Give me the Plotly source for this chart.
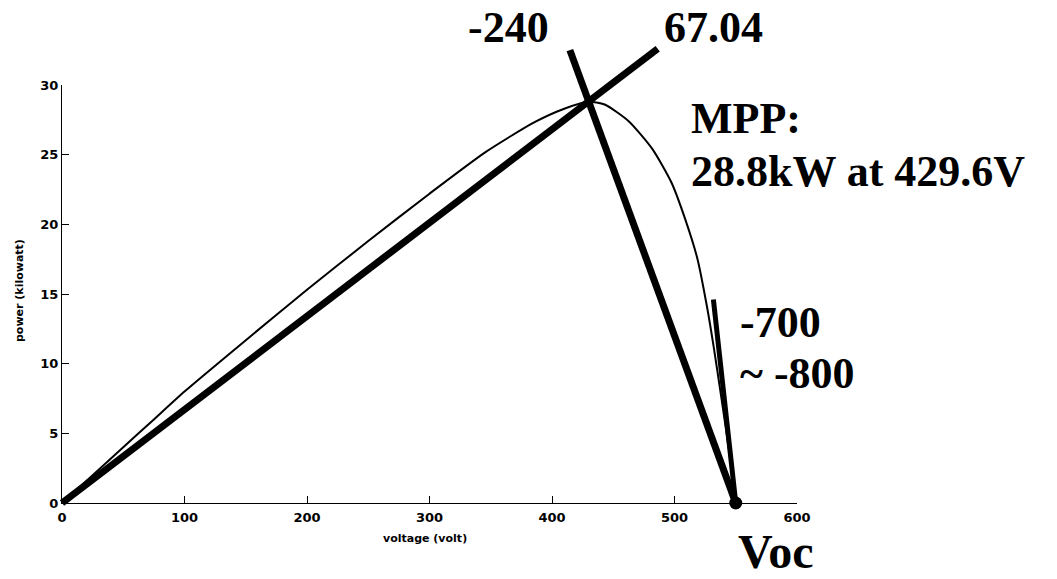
import plotly.graph_objects as go

# P-V curve of the PV array (voltage in V, power in kW)
voltage = [0, 25, 50, 75, 100, 153, 200, 250, 300, 346, 385, 410, 429.6,
           443, 462.6, 482, 497.5, 509, 518.8, 526.5, 532, 538, 542, 546, 550]
power = [0, 2.0, 4.0, 6.0, 8.0, 11.9, 15.3, 18.8, 22.2, 25.2, 27.3, 28.3, 28.8,
         28.6, 27.4, 25.4, 23.0, 20.3, 17.5, 14.1, 11.2, 7.7, 5.3, 2.8, 0]

# operating points
mpp_v, mpp_p = 429.6, 28.8
voc = 550
# slopes in W/V
slope_mpp = 67.04
slope_voc_mpp = -240
slope_voc_steep = -800
# end points of the three tangent lines (kW)
top_mpp_line = 32.6
top_voc_line = 32.5
top_steep_line = 14.6

x_ticks = [0, 100, 200, 300, 400, 500, 600]
y_ticks = [0, 5, 10, 15, 20, 25, 30]

W, H = 1057, 579
L, R, T, B = 52, 260, 20, 66
PW, PH = W - L - R, H - T - B
X0_PX, Y0_PX, Y30_PX = 62, 503, 85
kw_per_px = 30 / (Y0_PX - Y30_PX)
v_per_px = 600 / (L + PW - X0_PX)


def px(x):
    return (x - L) / PW


def py(y):
    return (H - B - y) / PH


fig = go.Figure()

# empty trace so the visible axis pair is drawn
fig.add_trace(go.Scatter(x=[None], y=[None], mode="lines", showlegend=False, hoverinfo="skip"))

line_kw = dict(xaxis="x2", yaxis="y2", mode="lines", hoverinfo="skip", showlegend=False)

fig.add_trace(go.Scatter(x=voltage, y=power, line=dict(color="black", width=2, shape="spline",
                                                       smoothing=0.6), **line_kw))

x_end1 = top_mpp_line / (slope_mpp / 1000)
fig.add_trace(go.Scatter(x=[0, x_end1], y=[0, slope_mpp / 1000 * x_end1],
                         line=dict(color="black", width=7), **line_kw))

x_end2 = voc + top_voc_line / (slope_voc_mpp / 1000)
fig.add_trace(go.Scatter(x=[voc, x_end2], y=[0, top_voc_line],
                         line=dict(color="black", width=7), **line_kw))

x_end3 = voc + top_steep_line / (slope_voc_steep / 1000)
fig.add_trace(go.Scatter(x=[voc, x_end3], y=[0, top_steep_line],
                         line=dict(color="black", width=5), **line_kw))

fig.add_trace(go.Scatter(x=[voc], y=[0], xaxis="x2", yaxis="y2", mode="markers",
                         marker=dict(color="black", size=13), cliponaxis=False,
                         hoverinfo="skip", showlegend=False))

tick_font = dict(family="DejaVu Sans", size=13, color="black", weight="bold")

fig.update_layout(
    width=W, height=H,
    margin=dict(l=L, r=R, t=T, b=B),
    paper_bgcolor="white", plot_bgcolor="rgba(0,0,0,0)",
    xaxis=dict(domain=[(X0_PX - L) / PW, 1], range=[0, 600], anchor="y",
               tickvals=x_ticks, ticks="inside", ticklen=7, tickcolor="black",
               showline=True, linecolor="black", linewidth=1, showgrid=False,
               zeroline=False, tickfont=tick_font, ticklabelstandoff=2),
    yaxis=dict(domain=[py(Y0_PX), py(Y30_PX)], range=[0, 30], anchor="x",
               tickvals=y_ticks, ticks="inside", ticklen=7, tickcolor="black",
               showline=True, linecolor="black", linewidth=1, showgrid=False,
               zeroline=False, tickfont=tick_font, ticklabelstandoff=0),
    xaxis2=dict(domain=[0, 1], range=[-(X0_PX - L) * v_per_px, 600], anchor="y2",
                visible=False),
    yaxis2=dict(domain=[0, 1], range=[-(H - B - Y0_PX) * kw_per_px, (Y0_PX - T) * kw_per_px],
                anchor="x2", visible=False),
)

big = dict(family="Liberation Serif", size=44, color="black", weight="bold")
small = dict(family="DejaVu Sans", size=11, color="black", weight="bold")


def note(text, x, y, font, xanchor="center", yanchor="middle", angle=0):
    fig.add_annotation(text=text, x=px(x), y=py(y), xref="paper", yref="paper",
                       showarrow=False, font=font, xanchor=xanchor, yanchor=yanchor,
                       textangle=angle, borderpad=0)


note("-240", 509, 27, big)
note("67.04", 713, 27, big)
note("MPP:", 690, 119, big, xanchor="left")
note("28.8kW at 429.6V", 690, 171, big, xanchor="left")
note("-700", 739, 322, big, xanchor="left")
note("~ -800", 739, 373, big, xanchor="left")
note("Voc", 737, 579, dict(big, size=48), xanchor="left", yanchor="bottom")
note("voltage (volt)", 425, 538, small)
note("power (kilowatt)", 20, 291, small, angle=-90)

fig.write_html("out.html")
